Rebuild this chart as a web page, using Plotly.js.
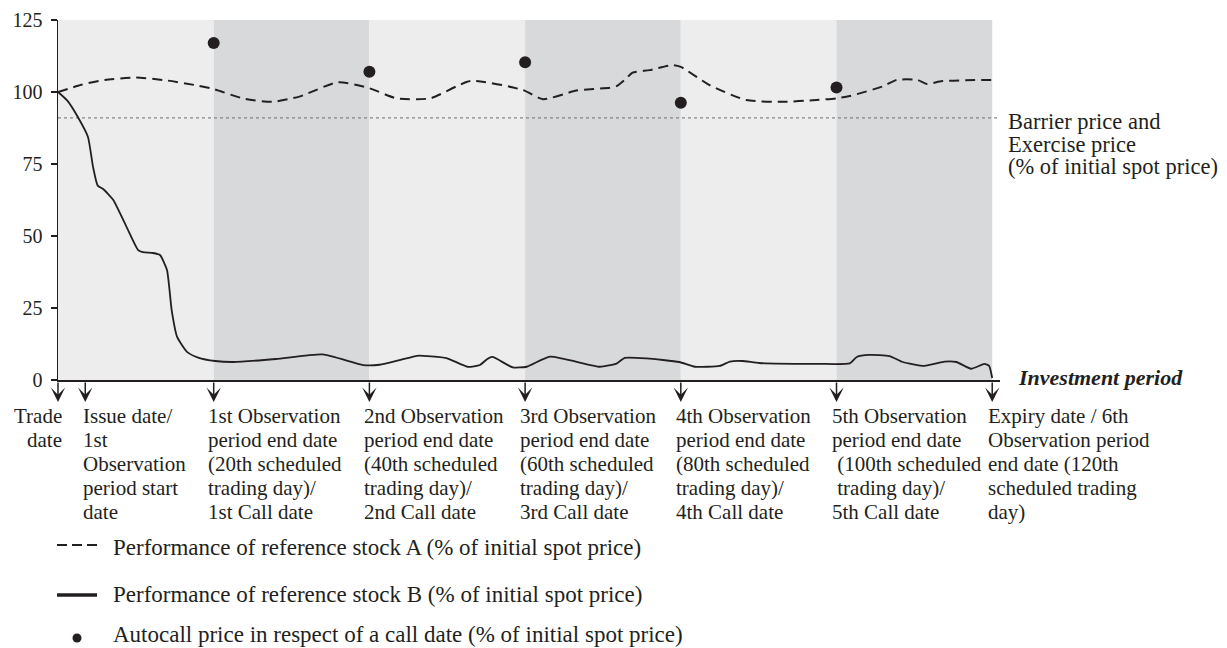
<!DOCTYPE html>
<html>
<head>
<meta charset="utf-8">
<script src="https://cdn.plot.ly/plotly-3.0.1.min.js"></script>
<style>
  html, body { margin: 0; padding: 0; background: #ffffff; }
  #chart { width: 1227px; height: 648px; }
</style>
</head>
<body>
<div id="chart"></div>
<script>
// ---------------- DATA ----------------
// Trading days (x) and performance values (% of initial spot price)
const stockADays = [0, 3, 6, 10, 14, 18, 20, 24, 27.5, 31, 36, 40, 43.5, 47.8, 53, 59.7, 62.3, 66.6, 71.2, 71.8, 73, 73.8, 76, 78.9, 80, 83.7, 88.4, 93, 97.4, 100, 101.7, 106, 107.7, 110.4, 111.6, 113.6, 120];
const stockAValues = [100, 102.5, 104.2, 105, 104, 102.2, 101, 97.6, 96.6, 98.4, 103.4, 101.3, 97.8, 97.8, 103.8, 100.7, 97.5, 100.5, 101.6, 102.1, 104.7, 106.7, 107.6, 109.3, 108.7, 102.4, 97.2, 96.6, 97.2, 97.8, 98.6, 102, 104.2, 104.2, 102.8, 103.8, 104.2];

const stockBDays = [0, 1.2, 2.4, 3.85, 4.5, 5.1, 5.8, 7.1, 8.8, 10.3, 10.9, 12.2, 13.1, 14.0, 14.6, 15.3, 16.6, 18, 20.2, 22.5, 28, 34, 39.2, 41.3, 44, 46.1, 46.9, 49.9, 52.6, 54.2, 55.1, 55.8, 58.4, 60.2, 63.2, 69.6, 71.8, 72.8, 75.6, 79.8, 81.8, 85, 86.3, 87.9, 90.1, 97.8, 101.7, 102.6, 104.2, 106.8, 108.5, 111.3, 113.9, 115.4, 117.3, 119, 119.6, 120];
const stockBValues = [100, 97, 92, 84.4, 74, 67.5, 66.3, 62.5, 53.2, 45.1, 44.4, 44.1, 43.4, 38.2, 24.3, 15, 9.7, 7.8, 6.6, 6.25, 7.3, 8.9, 5.2, 5.3, 7, 8.4, 8.4, 7.6, 4.6, 5.2, 7.2, 8, 4.4, 4.6, 8.1, 4.6, 5.8, 7.7, 7.5, 6.25, 4.6, 4.9, 6.4, 6.6, 5.9, 5.6, 5.8, 8, 8.7, 8.3, 6.25, 4.9, 6.4, 6.25, 3.9, 5.6, 4.9, 0.7];

const callDays = [20, 40, 60, 80, 100];
const autocallPrices = [117, 107, 110.3, 96.3, 101.6];

const barrierPrice = 91;

const periodBounds = [0, 20, 40, 60, 80, 100, 120];
const yTicks = [0, 25, 50, 75, 100, 125];

const eventDays = [0, 3.5, 20, 40, 60, 80, 100, 120];
const eventLabels = [
  "Trade\ndate",
  "Issue date/\n1st\nObservation\nperiod start\ndate",
  "1st Observation\nperiod end date\n(20th scheduled\ntrading day)/\n1st Call date",
  "2nd Observation\nperiod end date\n(40th scheduled\ntrading day)/\n2nd Call date",
  "3rd Observation\nperiod end date\n(60th scheduled\ntrading day)/\n3rd Call date",
  "4th Observation\nperiod end date\n(80th scheduled\ntrading day)/\n4th Call date",
  "5th Observation\nperiod end date\n&nbsp;(100th scheduled\n&nbsp;trading day)/\n5th Call date",
  "Expiry date / 6th\nObservation period\nend date (120th\nscheduled trading\nday)"
];

const barrierLabel = ["Barrier price and", "Exercise price", "(% of initial spot price)"];
const axisLabel = "Investment period";
const legendLabels = [
  "Performance of reference stock A (% of initial spot price)",
  "Performance of reference stock B (% of initial spot price)",
  "Autocall price in respect of a call date (% of initial spot price)"
];

// ---------------- STYLE / LAYOUT ----------------
const ink = '#231f20';
const serif = '"Liberation Serif", "Times New Roman", Times, serif';
const lightBand = '#ededed';
const darkBand = '#d8d9db';

const W = 1227, H = 648;
const M = {l: 58, r: 227, t: 20, b: 268};
const plotW = W - M.l - M.r;   // 942
const plotH = H - M.t - M.b;   // 360
const pxX = p => (p - M.l) / plotW;
const pxY = p => (H - M.b - p) / plotH;
const xMax = 121;

const traces = [
  {
    x: stockADays, y: stockAValues, type: 'scatter', mode: 'lines',
    line: {color: ink, width: 2, dash: '10px,6px', shape: 'spline', smoothing: 0.6},
    showlegend: false, hoverinfo: 'skip'
  },
  {
    x: stockBDays, y: stockBValues, type: 'scatter', mode: 'lines',
    line: {color: ink, width: 1.8, shape: 'spline', smoothing: 0.5},
    showlegend: false, hoverinfo: 'skip'
  },
  {
    x: callDays, y: autocallPrices, type: 'scatter', mode: 'markers',
    marker: {color: ink, size: 12},
    showlegend: false, hoverinfo: 'skip'
  }
];

const shapes = [];
for (let i = 0; i < periodBounds.length - 1; i++) {
  shapes.push({
    type: 'rect', xref: 'x', yref: 'y', layer: 'below',
    x0: periodBounds[i], x1: periodBounds[i + 1], y0: yTicks[0], y1: yTicks[yTicks.length - 1],
    fillcolor: i % 2 === 0 ? lightBand : darkBand, line: {width: 0}
  });
}
// barrier / exercise price line
shapes.push({
  type: 'line', xref: 'x', yref: 'y', layer: 'below',
  x0: 0, x1: xMax, y0: barrierPrice, y1: barrierPrice,
  line: {color: '#6d6e70', width: 1, dash: 'dot'}
});
// legend symbols
shapes.push({type: 'line', xref: 'paper', yref: 'paper', x0: pxX(57), x1: pxX(97), y0: pxY(545), y1: pxY(545),
  line: {color: ink, width: 2, dash: '10px,5px'}});
shapes.push({type: 'line', xref: 'paper', yref: 'paper', x0: pxX(57), x1: pxX(97), y0: pxY(595), y1: pxY(595),
  line: {color: ink, width: 3.5}});
shapes.push({type: 'circle', xref: 'paper', yref: 'paper', xsizemode: 'pixel', ysizemode: 'pixel',
  xanchor: pxX(77), yanchor: pxY(638), x0: -4.5, x1: 4.5, y0: -4.5, y1: 4.5,
  fillcolor: ink, line: {width: 0}});

const annotations = [];
// arrows under the axis
eventDays.forEach(d => {
  annotations.push({
    x: d, xref: 'x', y: pxY(402), yref: 'paper',
    ax: 0, ay: -21, showarrow: true, arrowhead: 3, arrowsize: 1.6, arrowwidth: 1.5,
    arrowcolor: ink, text: ''
  });
});
// event labels, one annotation per line
const labelShift = [6, -4, -8, -7, -7, -7, -7, -6];
eventLabels.forEach((lab, i) => {
  lab.split('\n').forEach((line, j) => {
    annotations.push({
      x: eventDays[i], xref: 'x', xshift: labelShift[i],
      y: pxY(416 + 24 * j), yref: 'paper',
      xanchor: i === 0 ? 'right' : 'left', yanchor: 'middle',
      text: line, showarrow: false, align: i === 0 ? 'right' : 'left',
      font: {family: serif, size: 21, color: ink}
    });
  });
});
// barrier label (one text block, tight line spacing)
annotations.push({
  x: pxX(1006), xref: 'paper', y: pxY(107), yref: 'paper',
  xanchor: 'left', yanchor: 'top', align: 'left', showarrow: false,
  text: barrierLabel.map(l => '<span style="font-size:22.5px">' + l + '</span>').join('<br>'),
  font: {family: serif, size: 17.4, color: ink}
});
// axis label
annotations.push({
  x: pxX(1016), xref: 'paper', y: pxY(377.5), yref: 'paper',
  xanchor: 'left', yanchor: 'middle', text: '<b><i>' + axisLabel + '</i></b>', showarrow: false,
  font: {family: serif, size: 22, color: ink}
});
// legend labels
const legendCenters = [547.5, 594.5, 634.5];
legendLabels.forEach((t, j) => {
  annotations.push({
    x: pxX(111), xref: 'paper', y: pxY(legendCenters[j]), yref: 'paper',
    xanchor: 'left', yanchor: 'middle', text: t, showarrow: false,
    font: {family: serif, size: 23, color: ink}
  });
});

const layout = {
  width: W, height: H,
  margin: M,
  paper_bgcolor: '#ffffff', plot_bgcolor: '#ffffff',
  showlegend: false,
  font: {family: serif, color: ink},
  xaxis: {
    range: [0, xMax], showgrid: false, zeroline: false, showticklabels: false, ticks: '',
    showline: true, linecolor: ink, linewidth: 1.5, fixedrange: true
  },
  yaxis: {
    range: [0, 125], tickmode: 'array', tickvals: yTicks, ticktext: yTicks.map(String),
    showgrid: false, zeroline: false, showline: true, linecolor: ink, linewidth: 1.5,
    ticks: 'outside', ticklen: 6, tickwidth: 1.2, tickcolor: ink, ticklabelstandoff: 4,
    tickfont: {family: serif, size: 20, color: ink}, fixedrange: true
  },
  shapes: shapes,
  annotations: annotations
};

Plotly.newPlot('chart', traces, layout, {staticPlot: true, displayModeBar: false});
</script>
</body>
</html>
